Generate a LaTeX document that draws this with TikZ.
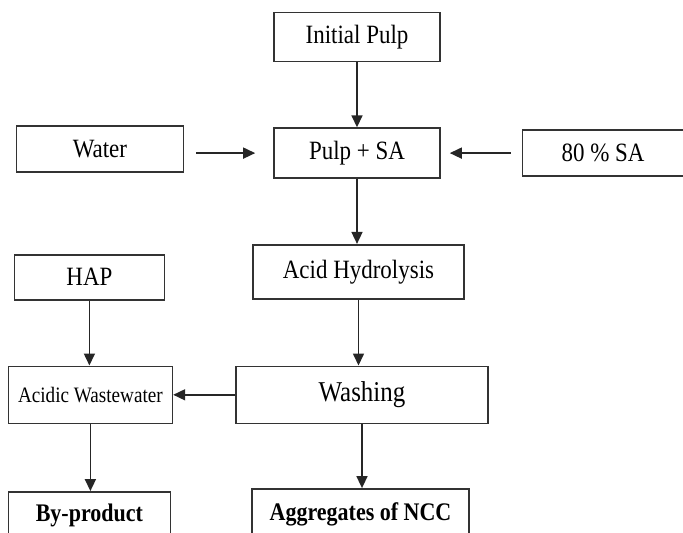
\documentclass[tikz,border=0pt]{standalone}
\usepackage{fontspec}
\setmainfont[FakeStretch=0.87]{Liberation Serif}
\usetikzlibrary{positioning, arrows.meta}

\begin{document}
\begin{tikzpicture}[
    x=1pt, y=1pt,
    node distance=65pt and 80pt,
    box/.style={
        rectangle,
        draw=black!80,
        line width=1.6pt,
        align=center,
        inner sep=0pt,
        minimum width=166pt,
        minimum height=48pt,
        fill=white,
        font=\fontsize{26.4}{30}\selectfont
    },
    arrow/.style={
        -{Triangle[length=12pt, width=11pt]},
        line width=1.6pt,
        draw=black!85
    }
]

\useasboundingbox (0,0) rectangle (683,-533);

\node[box, minimum height=49pt] (initial) at (357,-37) {Initial Pulp};
\node[box, below=of initial, minimum height=50pt] (pulp) {Pulp + SA};
\node[box, left=89pt of pulp, yshift=4pt, minimum width=167pt, minimum height=46pt] (water) {Water};
\node[box, right=81pt of pulp, minimum width=161pt, minimum height=46pt] (sa) {80 \% SA};

\node[box, below=of pulp, xshift=1.5pt, minimum width=211pt, minimum height=54pt] (acid) {Acid Hydrolysis};
\node[box, below=66pt of acid, xshift=3.5pt, minimum width=252pt, minimum height=57pt,
    font=\fontsize{28.7}{32}\selectfont] (wash) {Washing};
\node[box, left=62pt of wash, minimum width=164pt, minimum height=57pt,
    font=\fontsize{22}{26}\selectfont] (waste) {Acidic Wastewater};
\node[box, above=65pt of waste, xshift=-1pt, minimum width=150pt, minimum height=45pt] (hap) {HAP};

\node[box, below=67pt of waste, xshift=-1pt, minimum width=162pt, minimum height=48pt,
    font={\fontsize{25.3}{29}\selectfont\bfseries}] (byprod) {By-product};
\node[box, below=64pt of wash, xshift=-1.5pt, minimum width=217pt, minimum height=51pt,
    font={\fontsize{25.3}{29}\selectfont\bfseries}] (ncc) {Aggregates of NCC};

\draw[arrow] (initial) -- (pulp);
\draw[arrow, shorten <=12pt, shorten >=18pt] (water.east |- pulp.west) -- (pulp.west);
\draw[arrow, shorten <=11pt, shorten >=9pt] (sa.west) -- (pulp.east);
\draw[arrow] (pulp) -- (pulp |- acid.north);
\draw[arrow] (acid.south) -- (acid.south |- wash.north);
\draw[arrow] (wash.west) -- (waste.east);
\draw[arrow] (hap) -- (hap |- waste.north);
\draw[arrow] (waste) -- (waste |- byprod.north);
\draw[arrow] (wash.south) -- (wash.south |- ncc.north);

\end{tikzpicture}
\end{document}
